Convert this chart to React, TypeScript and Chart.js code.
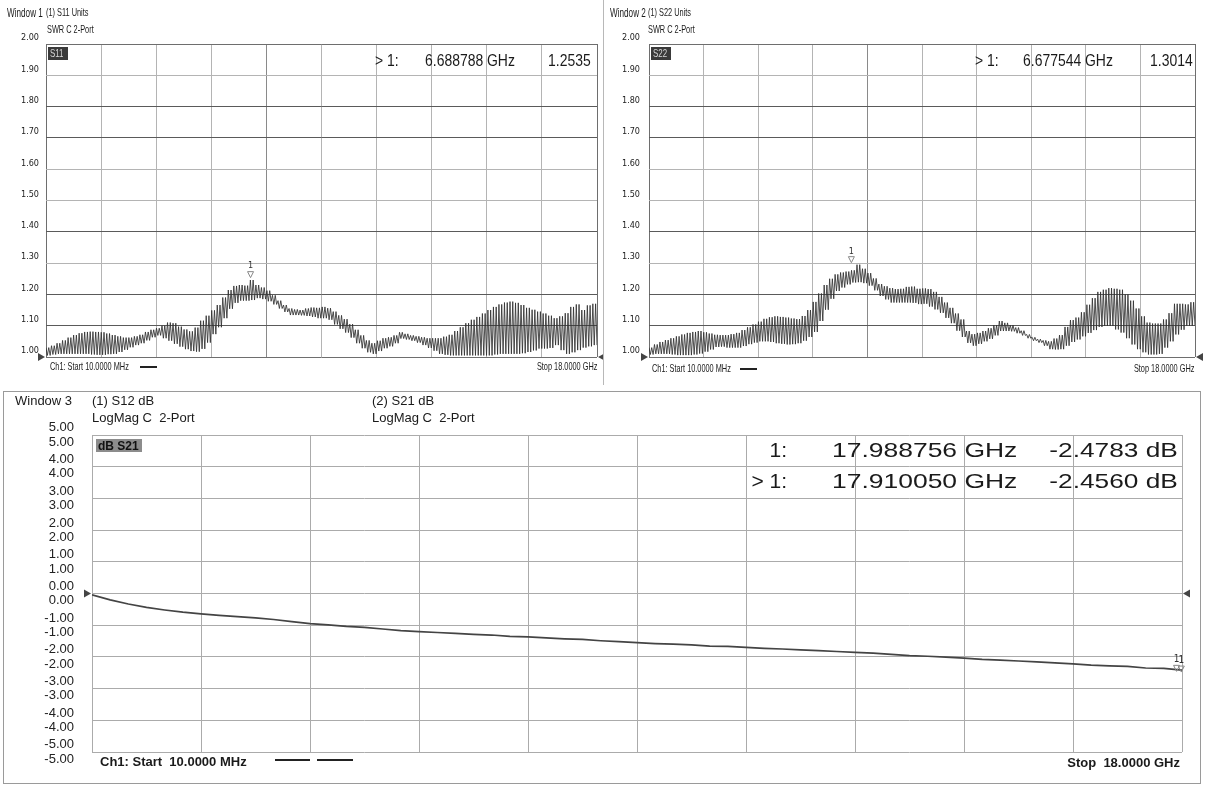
import React, { useEffect, useRef } from "react";
import { Chart, registerables } from "chart.js";

Chart.register(...registerables);

const F_START = 0.01;
const F_STOP = 18;
const X_DIVS = 10;

const swrTicks = [1.0, 1.1, 1.2, 1.3, 1.4, 1.5, 1.6, 1.7, 1.8, 1.9, 2.0];
const dbTicks = [-5, -4, -3, -2, -1, 0, 1, 2, 3, 4, 5];

// Window 1 : S11 SWR, upper / lower ripple envelope read along the sweep
const s11Max = [
  1.030, 1.036, 1.044, 1.053, 1.062, 1.070, 1.076, 1.080, 1.081, 1.080,
  1.079, 1.075, 1.070, 1.066, 1.062, 1.062, 1.066, 1.071, 1.080, 1.087,
  1.092, 1.100, 1.110, 1.108, 1.097, 1.088, 1.082, 1.094, 1.116, 1.132,
  1.149, 1.166, 1.190, 1.214, 1.227, 1.230, 1.228, 1.246, 1.230, 1.222,
  1.212, 1.197, 1.180, 1.166, 1.155, 1.152, 1.150, 1.155, 1.158, 1.157,
  1.160, 1.156, 1.145, 1.133, 1.121, 1.105, 1.087, 1.069, 1.053, 1.044,
  1.052, 1.060, 1.063, 1.069, 1.079, 1.074, 1.069, 1.066, 1.063, 1.060,
  1.060, 1.060, 1.065, 1.071, 1.083, 1.095, 1.108, 1.119, 1.128, 1.139,
  1.150, 1.160, 1.168, 1.174, 1.177, 1.173, 1.166, 1.157, 1.151, 1.145,
  1.139, 1.132, 1.124, 1.130, 1.140, 1.160, 1.168, 1.150, 1.165, 1.170,
];
const s11Min = [
  1.005, 1.008, 1.010, 1.010, 1.010, 1.010, 1.010, 1.010, 1.008, 1.007,
  1.007, 1.009, 1.010, 1.016, 1.023, 1.031, 1.038, 1.044, 1.053, 1.063,
  1.069, 1.060, 1.052, 1.042, 1.033, 1.025, 1.019, 1.017, 1.026, 1.046,
  1.073, 1.095, 1.124, 1.154, 1.173, 1.180, 1.180, 1.182, 1.188, 1.185,
  1.178, 1.168, 1.155, 1.144, 1.134, 1.134, 1.133, 1.131, 1.128, 1.124,
  1.124, 1.119, 1.104, 1.090, 1.078, 1.062, 1.044, 1.028, 1.015, 1.010,
  1.019, 1.028, 1.034, 1.044, 1.059, 1.056, 1.052, 1.046, 1.038, 1.029,
  1.020, 1.010, 1.007, 1.005, 1.005, 1.005, 1.005, 1.005, 1.005, 1.005,
  1.005, 1.008, 1.010, 1.010, 1.010, 1.010, 1.012, 1.016, 1.021, 1.027,
  1.027, 1.029, 1.038, 1.022, 1.010, 1.015, 1.022, 1.030, 1.034, 1.038,
];

// Window 2 : S22 SWR
const s22Max = [
  1.030, 1.040, 1.048, 1.054, 1.060, 1.066, 1.072, 1.077, 1.080, 1.083,
  1.079, 1.075, 1.071, 1.070, 1.070, 1.073, 1.077, 1.086, 1.095, 1.104,
  1.113, 1.122, 1.127, 1.130, 1.128, 1.126, 1.123, 1.121, 1.131, 1.150,
  1.176, 1.203, 1.230, 1.250, 1.264, 1.270, 1.273, 1.277, 1.295, 1.282,
  1.268, 1.251, 1.233, 1.226, 1.220, 1.217, 1.218, 1.224, 1.225, 1.218,
  1.219, 1.217, 1.208, 1.192, 1.174, 1.157, 1.139, 1.120, 1.083, 1.073,
  1.077, 1.083, 1.092, 1.102, 1.115, 1.109, 1.102, 1.094, 1.084, 1.072,
  1.063, 1.057, 1.053, 1.050, 1.059, 1.070, 1.096, 1.118, 1.126, 1.143,
  1.167, 1.188, 1.208, 1.215, 1.220, 1.218, 1.215, 1.200, 1.180, 1.155,
  1.130, 1.110, 1.107, 1.107, 1.120, 1.140, 1.170, 1.170, 1.168, 1.175,
];
const s22Min = [
  1.008, 1.010, 1.010, 1.010, 1.008, 1.006, 1.006, 1.006, 1.008, 1.011,
  1.017, 1.024, 1.032, 1.033, 1.030, 1.030, 1.030, 1.035, 1.041, 1.046,
  1.050, 1.050, 1.048, 1.044, 1.042, 1.040, 1.041, 1.044, 1.052, 1.064,
  1.080, 1.115, 1.151, 1.186, 1.211, 1.222, 1.232, 1.238, 1.239, 1.236,
  1.228, 1.213, 1.195, 1.184, 1.174, 1.174, 1.174, 1.174, 1.173, 1.169,
  1.170, 1.161, 1.152, 1.141, 1.125, 1.108, 1.084, 1.064, 1.045, 1.036,
  1.042, 1.050, 1.058, 1.069, 1.083, 1.083, 1.082, 1.076, 1.069, 1.060,
  1.052, 1.046, 1.036, 1.025, 1.024, 1.025, 1.036, 1.048, 1.056, 1.066,
  1.077, 1.086, 1.096, 1.099, 1.099, 1.088, 1.078, 1.060, 1.040, 1.025,
  1.015, 1.008, 1.008, 1.010, 1.030, 1.050, 1.072, 1.087, 1.100, 1.100,
];

// Window 3 : S21 dB
const s21dB = [
  -0.04, -0.20, -0.33, -0.44, -0.52, -0.59, -0.645, -0.69, -0.73, -0.77,
  -0.82, -0.89, -0.95, -0.99, -1.04, -1.07, -1.12, -1.17, -1.20, -1.23,
  -1.26, -1.29, -1.31, -1.35, -1.37, -1.40, -1.43, -1.45, -1.49, -1.52,
  -1.55, -1.58, -1.60, -1.62, -1.66, -1.67, -1.70, -1.73, -1.75, -1.78,
  -1.80, -1.83, -1.86, -1.88, -1.92, -1.96, -1.98, -2.01, -2.04, -2.08,
  -2.10, -2.13, -2.16, -2.19, -2.22, -2.26, -2.28, -2.30, -2.35, -2.36, -2.42,
];

const s11Marker = [{ f: 6.688788, v: 1.2535 }];
const s22Marker = [{ f: 6.677544, v: 1.3014 }];
const s21Markers = [
  { f: 17.988756, v: -2.4783 },
  { f: 17.91005, v: -2.456 },
];

// ripple cycles drawn per envelope reading
const CYCLES_PER_READING = 2;

const NARROW = "'DejaVu Sans Condensed', 'Liberation Sans Narrow', sans-serif";
const ARIAL = "'Liberation Sans', Arial, sans-serif";

const xGridVals = Array.from({ length: X_DIVS + 1 }, (_, i) => F_START + ((F_STOP - F_START) * i) / X_DIVS);

function rippleTrace(maxs: number[], mins: number[]) {
  const seq: number[] = [];
  for (let i = 0; i < maxs.length; i++) {
    for (let c = 0; c < CYCLES_PER_READING; c++) {
      seq.push(maxs[i], mins[i]);
    }
  }
  const n = seq.length;
  return seq.map((y, k) => ({ x: F_START + ((F_STOP - F_START) * k) / (n - 1), y }));
}

function near(a: number, b: number) {
  return Math.abs(a - b) < 1e-6;
}

const swrDark = [1.1, 1.2, 1.4, 1.7, 1.8];
function swrGridColor(v: number) {
  if (swrDark.some((d) => near(d, v))) return "#5a5a5a";
  if (near(v, 2) || near(v, 1)) return "#6e6e6e";
  return "#b4b4b4";
}

const vnaPlugin = {
  id: "vnaMarks",
  afterDatasetsDraw(chart: any, _args: any, opts: any) {
    const { ctx, chartArea } = chart;
    const xs = chart.scales.x;
    const ys = chart.scales.y;
    ctx.save();
    const yr = ys.getPixelForValue(opts.ref);
    ctx.fillStyle = "#444";
    ctx.beginPath();
    ctx.moveTo(chartArea.left - 8, yr - 4);
    ctx.lineTo(chartArea.left - 1, yr);
    ctx.lineTo(chartArea.left - 8, yr + 4);
    ctx.closePath();
    ctx.fill();
    ctx.beginPath();
    ctx.moveTo(chartArea.right + 8, yr - 4);
    ctx.lineTo(chartArea.right + 1, yr);
    ctx.lineTo(chartArea.right + 8, yr + 4);
    ctx.closePath();
    ctx.fill();
    ctx.font = `${opts.labelSize || 9}px ${NARROW}`;
    ctx.textAlign = "center";
    ctx.textBaseline = "bottom";
    for (const m of opts.markers) {
      const px = xs.getPixelForValue(m.f);
      const py = ys.getPixelForValue(m.v);
      ctx.strokeStyle = "#888";
      ctx.lineWidth = 1;
      ctx.beginPath();
      ctx.moveTo(px - 3, py - 6);
      ctx.lineTo(px + 3, py - 6);
      ctx.lineTo(px, py);
      ctx.closePath();
      ctx.stroke();
      ctx.fillStyle = "#333";
      ctx.fillText("1", px, py - 7);
    }
    ctx.restore();
  },
};

function makeSwrChart(canvas: HTMLCanvasElement, maxs: number[], mins: number[], markers: any[], padRight: number, labelPad: number) {
  return new Chart(canvas, {
    type: "line",
    data: {
      datasets: [
        {
          data: rippleTrace(maxs, mins),
          borderColor: "#303030",
          borderWidth: 0.85,
          pointRadius: 0,
          tension: 0,
          fill: false,
        },
      ],
    },
    options: {
      animation: false,
      responsive: false,
      devicePixelRatio: 1,
      events: [],
      layout: { padding: { left: 0, top: 44, right: padRight, bottom: 28 } },
      plugins: {
        legend: { display: false },
        tooltip: { enabled: false },
        vnaMarks: { ref: 1, markers, labelSize: 9 },
      } as any,
      scales: {
        x: {
          type: "linear",
          min: F_START,
          max: F_STOP,
          afterBuildTicks: (s: any) => {
            s.ticks = xGridVals.map((v) => ({ value: v }));
          },
          afterFit: (s: any) => {
            s.height = 0;
          },
          ticks: { display: false },
          grid: {
            color: (c: any) => (c.index === 0 || c.index === X_DIVS ? "#6e6e6e" : c.index === 4 ? "#8a8a8a" : "#b4b4b4"),
            drawTicks: false,
          },
          border: { display: false },
        },
        y: {
          type: "linear",
          min: 1,
          max: 2,
          afterBuildTicks: (s: any) => {
            s.ticks = swrTicks.map((v) => ({ value: v }));
          },
          afterFit: (s: any) => {
            s.width = 46;
          },
          ticks: {
            font: { family: NARROW, size: 9 },
            color: "#222",
            padding: labelPad,
            labelOffset: -6,
            callback: (v: any) => Number(v).toFixed(2),
          },
          grid: { color: (c: any) => swrGridColor(c.tick.value), drawTicks: false },
          border: { display: false },
        },
      },
    },
    plugins: [vnaPlugin],
  } as any);
}

function makeDbChart(canvas: HTMLCanvasElement) {
  const n = s21dB.length;
  return new Chart(canvas, {
    type: "line",
    data: {
      datasets: [
        {
          data: s21dB.map((v, i) => ({ x: F_START + ((F_STOP - F_START) * i) / (n - 1), y: v })),
          borderColor: "#444",
          borderWidth: 1.7,
          pointRadius: 0,
          tension: 0,
          fill: false,
        },
      ],
    },
    options: {
      animation: false,
      responsive: false,
      devicePixelRatio: 1,
      events: [],
      layout: { padding: { left: 0, top: 50, right: 26, bottom: 35 } },
      plugins: {
        legend: { display: false },
        tooltip: { enabled: false },
        vnaMarks: { ref: 0, markers: s21Markers, labelSize: 10 },
      } as any,
      scales: {
        x: {
          type: "linear",
          min: F_START,
          max: F_STOP,
          afterBuildTicks: (s: any) => {
            s.ticks = xGridVals.map((v) => ({ value: v }));
          },
          afterFit: (s: any) => {
            s.height = 0;
          },
          ticks: { display: false },
          grid: { color: "#ababab", drawTicks: false },
          border: { display: false },
        },
        y: {
          type: "linear",
          min: -5,
          max: 5,
          afterBuildTicks: (s: any) => {
            s.ticks = dbTicks.map((v) => ({ value: v }));
          },
          afterFit: (s: any) => {
            s.width = 92;
          },
          ticks: {
            font: { family: ARIAL, size: 13, lineHeight: 1.1 },
            color: "#222",
            padding: 18,
            callback: (v: any) => {
              const t = Number(v).toFixed(2);
              return [t, t];
            },
          },
          grid: { color: "#ababab", drawTicks: false },
          border: { display: false },
        },
      },
    },
    plugins: [vnaPlugin],
  } as any);
}

type TP = {
  x: number;
  cy: number;
  size: number;
  font?: string;
  bold?: boolean;
  right?: boolean;
  sx?: number;
  color?: string;
  children: React.ReactNode;
};

function Txt(p: TP) {
  const style: React.CSSProperties = {
    position: "absolute",
    top: p.cy - p.size * 0.5,
    fontSize: p.size,
    lineHeight: `${p.size}px`,
    fontFamily: p.font ?? ARIAL,
    fontWeight: p.bold ? 700 : 400,
    color: p.color ?? "#1a1a1a",
    whiteSpace: "pre",
    transform: p.sx ? `scaleX(${p.sx})` : undefined,
    transformOrigin: p.right ? "right center" : "left center",
  };
  if (p.right) style.right = 1208 - p.x;
  else style.left = p.x;
  return <div style={style}>{p.children}</div>;
}

function Box(p: { x: number; y: number; w: number; h: number; bg: string }) {
  return <div style={{ position: "absolute", left: p.x, top: p.y, width: p.w, height: p.h, background: p.bg }} />;
}

export default function App() {
  const c1 = useRef<HTMLCanvasElement>(null);
  const c2 = useRef<HTMLCanvasElement>(null);
  const c3 = useRef<HTMLCanvasElement>(null);

  useEffect(() => {
    const a = makeSwrChart(c1.current!, s11Max, s11Min, s11Marker, 6, 7);
    const b = makeSwrChart(c2.current!, s22Max, s22Min, s22Marker, 13, 9);
    const c = makeDbChart(c3.current!);
    return () => {
      a.destroy();
      b.destroy();
      c.destroy();
    };
  }, []);

  return (
    <div style={{ position: "fixed", left: 0, top: 0, width: 1208, height: 787, background: "#fff", overflow: "hidden" }}>
      <canvas ref={c1} width={603} height={385} style={{ position: "absolute", left: 0, top: 0, width: 603, height: 385 }} />
      <canvas ref={c2} width={605} height={385} style={{ position: "absolute", left: 603, top: 0, width: 605, height: 385 }} />
      <canvas ref={c3} width={1208} height={402} style={{ position: "absolute", left: 0, top: 385, width: 1208, height: 402 }} />

      {/* frame lines */}
      <Box x={603} y={0} w={1} h={385} bg="#b8b8b8" />
      <Box x={3} y={391} w={1197} h={1} bg="#9a9a9a" />
      <Box x={3} y={391} w={1} h={392} bg="#9a9a9a" />
      <Box x={1200} y={391} w={1} h={392} bg="#9a9a9a" />
      <Box x={3} y={783} w={1198} h={1} bg="#9a9a9a" />

      {/* Window 1 */}
      <Txt x={7} cy={12.5} size={12} sx={0.68}>Window 1</Txt>
      <Txt x={46} cy={12.5} size={11} sx={0.67}>(1) S11 Units</Txt>
      <Txt x={47} cy={29} size={11} sx={0.67}>SWR C 2-Port</Txt>
      <Box x={48} y={47} w={20} h={13} bg="#3a3a3a" />
      <Txt x={50} cy={53.5} size={11} sx={0.72} color="#d8d8d8">S11</Txt>
      <Txt x={375} cy={60} size={17} sx={0.82}>{"> 1:"}</Txt>
      <Txt x={425} cy={60} size={17} sx={0.82}>6.688788 GHz</Txt>
      <Txt x={548} cy={60} size={17} sx={0.82}>1.2535</Txt>
      <Txt x={50} cy={366} size={10.5} sx={0.7}>Ch1: Start 10.0000 MHz</Txt>
      <Box x={140} y={366} w={17} h={2} bg="#222" />
      <Txt x={597} cy={366} size={10.5} sx={0.7} right>Stop 18.0000 GHz</Txt>

      {/* Window 2 */}
      <Txt x={610} cy={12.5} size={12} sx={0.68}>Window 2</Txt>
      <Txt x={648} cy={12.5} size={11} sx={0.67}>(1) S22 Units</Txt>
      <Txt x={648} cy={29} size={11} sx={0.67}>SWR C 2-Port</Txt>
      <Box x={651} y={47} w={20} h={13} bg="#3a3a3a" />
      <Txt x={653} cy={53.5} size={11} sx={0.72} color="#d8d8d8">S22</Txt>
      <Txt x={975} cy={60} size={17} sx={0.82}>{"> 1:"}</Txt>
      <Txt x={1023} cy={60} size={17} sx={0.82}>6.677544 GHz</Txt>
      <Txt x={1150} cy={60} size={17} sx={0.82}>1.3014</Txt>
      <Txt x={652} cy={368} size={10.5} sx={0.7}>Ch1: Start 10.0000 MHz</Txt>
      <Box x={740} y={368} w={17} h={2} bg="#222" />
      <Txt x={1194} cy={368} size={10.5} sx={0.7} right>Stop 18.0000 GHz</Txt>

      {/* Window 3 */}
      <Txt x={15} cy={400} size={13}>Window 3</Txt>
      <Txt x={92} cy={400} size={13}>(1) S12 dB</Txt>
      <Txt x={92} cy={417} size={13}>LogMag C  2-Port</Txt>
      <Txt x={372} cy={400} size={13}>(2) S21 dB</Txt>
      <Txt x={372} cy={417} size={13}>LogMag C  2-Port</Txt>
      <Box x={96} y={439} w={46} h={13} bg="#8c8c8c" />
      <Txt x={98} cy={445.5} size={12} bold color="#111">dB S21</Txt>

      <Txt x={787} cy={449} size={21} right>1:</Txt>
      <Txt x={832} cy={449} size={21} sx={1.26}>17.988756 GHz</Txt>
      <Txt x={1178} cy={449} size={21} sx={1.25} right>-2.4783 dB</Txt>
      <Txt x={787} cy={480} size={21} right>{"> 1:"}</Txt>
      <Txt x={832} cy={480} size={21} sx={1.26}>17.910050 GHz</Txt>
      <Txt x={1178} cy={480} size={21} sx={1.25} right>-2.4560 dB</Txt>

      <Txt x={100} cy={761} size={13} bold>Ch1: Start  10.0000 MHz</Txt>
      <Box x={275} y={759} w={35} h={2} bg="#222" />
      <Box x={317} y={759} w={36} h={2} bg="#222" />
      <Txt x={1180} cy={762} size={13} bold right>Stop  18.0000 GHz</Txt>
    </div>
  );
}
